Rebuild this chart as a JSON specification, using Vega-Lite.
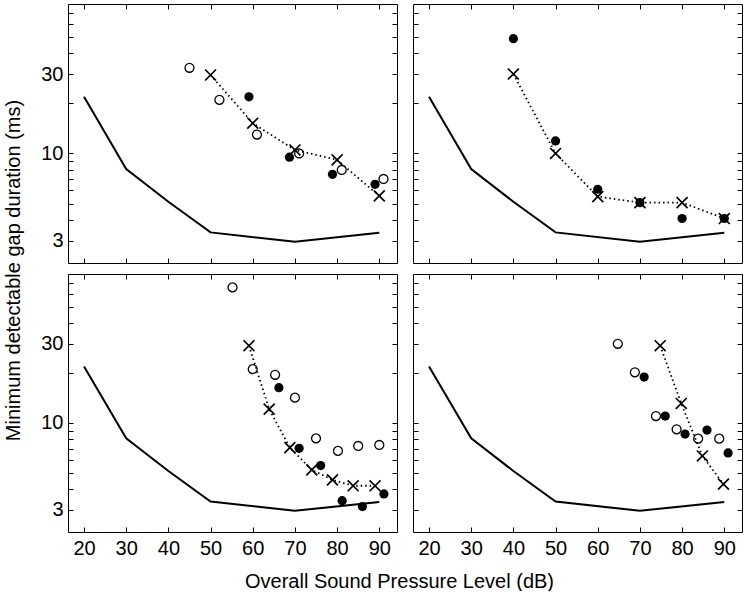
{
  "$schema": "https://vega.github.io/schema/vega-lite/v6.json",
  "padding": {"left": 3, "top": 3, "right": 0, "bottom": 0},
  "background": "white",
  "config": {
    "view": {"stroke": null},
    "axis": {
      "grid": false,
      "domainColor": "black",
      "domainWidth": 1,
      "tickColor": "black",
      "tickWidth": 1,
      "labelColor": "black",
      "titleColor": "black",
      "labelFont": "Liberation Sans",
      "titleFont": "Liberation Sans",
      "labelFontSize": 20,
      "titleFontSize": 20,
      "titleFontWeight": "normal"
    },
    "text": {"font": "Liberation Sans"}
  },
  "datasets": {
    "curve": [
      {"x": 20, "y": 21.9}, {"x": 30, "y": 8.07}, {"x": 40, "y": 5.13},
      {"x": 50, "y": 3.36}, {"x": 70, "y": 2.95}, {"x": 90, "y": 3.34}
    ],
    "pts": [
      {"panel": "a", "type": "open", "x": 45, "y": 32.7},
      {"panel": "a", "type": "open", "x": 52.1, "y": 21.0},
      {"panel": "a", "type": "open", "x": 61, "y": 13.0},
      {"panel": "a", "type": "open", "x": 71, "y": 10.0},
      {"panel": "a", "type": "open", "x": 81.1, "y": 7.96},
      {"panel": "a", "type": "open", "x": 91, "y": 7.03},
      {"panel": "a", "type": "filled", "x": 59.1, "y": 21.9},
      {"panel": "a", "type": "filled", "x": 68.7, "y": 9.5},
      {"panel": "a", "type": "filled", "x": 78.9, "y": 7.5},
      {"panel": "a", "type": "filled", "x": 89, "y": 6.53},
      {"panel": "a", "type": "cross", "x": 50, "y": 29.6},
      {"panel": "a", "type": "cross", "x": 60, "y": 15.2},
      {"panel": "a", "type": "cross", "x": 70, "y": 10.5},
      {"panel": "a", "type": "cross", "x": 80, "y": 9.15},
      {"panel": "a", "type": "cross", "x": 90, "y": 5.56},
      {"panel": "b", "type": "filled", "x": 40, "y": 48.9},
      {"panel": "b", "type": "filled", "x": 50, "y": 11.9},
      {"panel": "b", "type": "filled", "x": 60, "y": 6.1},
      {"panel": "b", "type": "filled", "x": 70, "y": 5.07},
      {"panel": "b", "type": "filled", "x": 80, "y": 4.07},
      {"panel": "b", "type": "filled", "x": 90, "y": 4.07},
      {"panel": "b", "type": "cross", "x": 40, "y": 30},
      {"panel": "b", "type": "cross", "x": 50, "y": 10},
      {"panel": "b", "type": "cross", "x": 60, "y": 5.51},
      {"panel": "b", "type": "cross", "x": 70, "y": 5.07},
      {"panel": "b", "type": "cross", "x": 80, "y": 5.07},
      {"panel": "b", "type": "cross", "x": 90, "y": 4.07},
      {"panel": "c", "type": "open", "x": 55.2, "y": 65.6},
      {"panel": "c", "type": "open", "x": 60, "y": 21.1},
      {"panel": "c", "type": "open", "x": 65.3, "y": 19.5},
      {"panel": "c", "type": "open", "x": 70, "y": 14.2},
      {"panel": "c", "type": "open", "x": 75, "y": 8.07},
      {"panel": "c", "type": "open", "x": 80.2, "y": 6.78},
      {"panel": "c", "type": "open", "x": 85, "y": 7.26},
      {"panel": "c", "type": "open", "x": 90, "y": 7.36},
      {"panel": "c", "type": "filled", "x": 66.2, "y": 16.3},
      {"panel": "c", "type": "filled", "x": 71, "y": 7.03},
      {"panel": "c", "type": "filled", "x": 76.1, "y": 5.53},
      {"panel": "c", "type": "filled", "x": 81.2, "y": 3.40},
      {"panel": "c", "type": "filled", "x": 86, "y": 3.13},
      {"panel": "c", "type": "filled", "x": 91.1, "y": 3.73},
      {"panel": "c", "type": "cross", "x": 59.1, "y": 29.2},
      {"panel": "c", "type": "cross", "x": 63.9, "y": 12.1},
      {"panel": "c", "type": "cross", "x": 68.8, "y": 7.1},
      {"panel": "c", "type": "cross", "x": 74, "y": 5.21},
      {"panel": "c", "type": "cross", "x": 78.9, "y": 4.54},
      {"panel": "c", "type": "cross", "x": 83.8, "y": 4.18},
      {"panel": "c", "type": "cross", "x": 89, "y": 4.18},
      {"panel": "d", "type": "open", "x": 64.75, "y": 30},
      {"panel": "d", "type": "open", "x": 68.8, "y": 20.2},
      {"panel": "d", "type": "open", "x": 73.8, "y": 11.0},
      {"panel": "d", "type": "open", "x": 78.7, "y": 9.15},
      {"panel": "d", "type": "open", "x": 83.8, "y": 8.04},
      {"panel": "d", "type": "open", "x": 88.8, "y": 8.04},
      {"panel": "d", "type": "filled", "x": 71, "y": 18.9},
      {"panel": "d", "type": "filled", "x": 76, "y": 11.0},
      {"panel": "d", "type": "filled", "x": 80.7, "y": 8.57},
      {"panel": "d", "type": "filled", "x": 85.9, "y": 9.06},
      {"panel": "d", "type": "filled", "x": 90.9, "y": 6.59},
      {"panel": "d", "type": "cross", "x": 74.8, "y": 29.2},
      {"panel": "d", "type": "cross", "x": 79.8, "y": 13.1},
      {"panel": "d", "type": "cross", "x": 84.8, "y": 6.32},
      {"panel": "d", "type": "cross", "x": 89.8, "y": 4.28}
    ]
  },
  "columns": 2,
  "spacing": {"row": 11, "column": 16},
  "bounds": "flush",
  "concat": [
    {
      "width": 329, "height": 259,
      "encoding": {
        "x": {"field": "x", "type": "quantitative", "scale": {"domain": [16.2, 94.2], "nice": false, "zero": false}, "axis": null},
        "y": {"field": "y", "type": "quantitative", "scale": {"type": "log", "domain": [2.2, 79], "nice": false}, "axis": null}
      },
      "layer": [
        {"data": {"name": "curve"}, "mark": {"type": "line", "color": "black", "strokeWidth": 2},
         "encoding": {
           "x": {"field": "x", "type": "quantitative", "scale": {"domain": [16.2, 94.2], "nice": false, "zero": false},
                 "axis": {"orient": "bottom", "values": [20, 30, 40, 50, 60, 70, 80, 90], "tickSize": -5, "labels": false, "title": null}},
           "y": {"field": "y", "type": "quantitative", "scale": {"type": "log", "domain": [2.2, 79], "nice": false},
                 "axis": {"orient": "left", "values": [3, 4, 5, 6, 7, 8, 9, 10, 20, 30, 40, 50, 60, 70], "tickSize": -5, "labelPadding": 10,
                          "labelExpr": "datum.value==3 ? '3' : datum.value==10 ? '10' : datum.value==30 ? '30' : ''",
                          "title": "Minimum detectable gap duration (ms)", "titleY": 266, "titlePadding": 17}}
         }},
        {"data": {"name": "pts"}, "transform": [{"filter": "datum.panel=='a' && datum.type=='cross'"}],
         "mark": {"type": "line", "color": "black", "strokeWidth": 1.8, "strokeDash": [1.5, 3]}},
        {"data": {"name": "pts"}, "transform": [{"filter": "datum.panel=='a' && datum.type=='open'"}],
         "mark": {"type": "point", "shape": "circle", "filled": false, "color": "black", "size": 80, "strokeWidth": 1.3, "opacity": 1}},
        {"data": {"name": "pts"}, "transform": [{"filter": "datum.panel=='a' && datum.type=='filled'"}],
         "mark": {"type": "point", "shape": "circle", "filled": true, "color": "black", "size": 85, "opacity": 1}},
        {"data": {"name": "pts"}, "transform": [{"filter": "datum.panel=='a' && datum.type=='cross'"}],
         "mark": {"type": "point", "shape": "M-1,-1L1,1M-1,1L1,-1", "filled": false, "color": "black", "size": 120, "strokeWidth": 1.7, "opacity": 1}},
        {"data": {"values": [{}]}, "mark": {"type": "text", "align": "left", "baseline": "middle", "fontSize": 20, "color": "black"},
         "encoding": {
           "x": {"datum": 25, "type": "quantitative", "scale": {"domain": [16.2, 94.2], "nice": false, "zero": false}, "axis": null},
           "y": {"datum": 47, "type": "quantitative", "scale": {"type": "log", "domain": [2.2, 79], "nice": false}, "axis": null},
           "text": {"value": "(a)"}
         }},
        {"data": {"name": "curve"}, "mark": {"type": "point", "opacity": 0},
         "encoding": {
           "x": {"field": "x", "type": "quantitative", "scale": {"domain": [16.2, 94.2], "nice": false, "zero": false},
                 "axis": {"orient": "top", "values": [20, 30, 40, 50, 60, 70, 80, 90], "tickSize": -5, "labels": false, "title": null}},
           "y": {"field": "y", "type": "quantitative", "scale": {"type": "log", "domain": [2.2, 79], "nice": false},
                 "axis": {"orient": "right", "values": [3, 4, 5, 6, 7, 8, 9, 10, 20, 30, 40, 50, 60, 70], "tickSize": -5, "labels": false, "title": null}}
         }}
      ]
    },
    {
      "width": 329, "height": 259,
      "encoding": {
        "x": {"field": "x", "type": "quantitative", "scale": {"domain": [16.2, 94.2], "nice": false, "zero": false}, "axis": null},
        "y": {"field": "y", "type": "quantitative", "scale": {"type": "log", "domain": [2.2, 79], "nice": false}, "axis": null}
      },
      "layer": [
        {"data": {"name": "curve"}, "mark": {"type": "line", "color": "black", "strokeWidth": 2},
         "encoding": {
           "x": {"field": "x", "type": "quantitative", "scale": {"domain": [16.2, 94.2], "nice": false, "zero": false},
                 "axis": {"orient": "bottom", "values": [20, 30, 40, 50, 60, 70, 80, 90], "tickSize": -5, "labels": false, "title": null}},
           "y": {"field": "y", "type": "quantitative", "scale": {"type": "log", "domain": [2.2, 79], "nice": false},
                 "axis": {"orient": "left", "values": [3, 4, 5, 6, 7, 8, 9, 10, 20, 30, 40, 50, 60, 70], "tickSize": -5, "labels": false, "title": null}}
         }},
        {"data": {"name": "pts"}, "transform": [{"filter": "datum.panel=='b' && datum.type=='cross'"}],
         "mark": {"type": "line", "color": "black", "strokeWidth": 1.8, "strokeDash": [1.5, 3]}},
        {"data": {"name": "pts"}, "transform": [{"filter": "datum.panel=='b' && datum.type=='filled'"}],
         "mark": {"type": "point", "shape": "circle", "filled": true, "color": "black", "size": 85, "opacity": 1}},
        {"data": {"name": "pts"}, "transform": [{"filter": "datum.panel=='b' && datum.type=='cross'"}],
         "mark": {"type": "point", "shape": "M-1,-1L1,1M-1,1L1,-1", "filled": false, "color": "black", "size": 120, "strokeWidth": 1.7, "opacity": 1}},
        {"data": {"values": [{}]}, "mark": {"type": "text", "align": "left", "baseline": "middle", "fontSize": 20, "color": "black"},
         "encoding": {
           "x": {"datum": 25, "type": "quantitative", "scale": {"domain": [16.2, 94.2], "nice": false, "zero": false}, "axis": null},
           "y": {"datum": 47, "type": "quantitative", "scale": {"type": "log", "domain": [2.2, 79], "nice": false}, "axis": null},
           "text": {"value": "(b)"}
         }},
        {"data": {"name": "curve"}, "mark": {"type": "point", "opacity": 0},
         "encoding": {
           "x": {"field": "x", "type": "quantitative", "scale": {"domain": [16.2, 94.2], "nice": false, "zero": false},
                 "axis": {"orient": "top", "values": [20, 30, 40, 50, 60, 70, 80, 90], "tickSize": -5, "labels": false, "title": null}},
           "y": {"field": "y", "type": "quantitative", "scale": {"type": "log", "domain": [2.2, 79], "nice": false},
                 "axis": {"orient": "right", "values": [3, 4, 5, 6, 7, 8, 9, 10, 20, 30, 40, 50, 60, 70], "tickSize": -5, "labels": false, "title": null}}
         }}
      ]
    },
    {
      "width": 329, "height": 258,
      "encoding": {
        "x": {"field": "x", "type": "quantitative", "scale": {"domain": [16.2, 94.2], "nice": false, "zero": false}, "axis": null},
        "y": {"field": "y", "type": "quantitative", "scale": {"type": "log", "domain": [2.2, 79], "nice": false}, "axis": null}
      },
      "layer": [
        {"data": {"name": "curve"}, "mark": {"type": "line", "color": "black", "strokeWidth": 2},
         "encoding": {
           "x": {"field": "x", "type": "quantitative", "scale": {"domain": [16.2, 94.2], "nice": false, "zero": false},
                 "axis": {"orient": "bottom", "values": [20, 30, 40, 50, 60, 70, 80, 90], "tickSize": -5, "labelPadding": 11,
                          "title": "Overall Sound Pressure Level (dB)", "titleX": 331, "titlePadding": 13}},
           "y": {"field": "y", "type": "quantitative", "scale": {"type": "log", "domain": [2.2, 79], "nice": false},
                 "axis": {"orient": "left", "values": [3, 4, 5, 6, 7, 8, 9, 10, 20, 30, 40, 50, 60, 70], "tickSize": -5, "labelPadding": 10,
                          "labelExpr": "datum.value==3 ? '3' : datum.value==10 ? '10' : datum.value==30 ? '30' : ''",
                          "title": null}}
         }},
        {"data": {"name": "pts"}, "transform": [{"filter": "datum.panel=='c' && datum.type=='cross'"}],
         "mark": {"type": "line", "color": "black", "strokeWidth": 1.8, "strokeDash": [1.5, 3]}},
        {"data": {"name": "pts"}, "transform": [{"filter": "datum.panel=='c' && datum.type=='open'"}],
         "mark": {"type": "point", "shape": "circle", "filled": false, "color": "black", "size": 80, "strokeWidth": 1.3, "opacity": 1}},
        {"data": {"name": "pts"}, "transform": [{"filter": "datum.panel=='c' && datum.type=='filled'"}],
         "mark": {"type": "point", "shape": "circle", "filled": true, "color": "black", "size": 85, "opacity": 1}},
        {"data": {"name": "pts"}, "transform": [{"filter": "datum.panel=='c' && datum.type=='cross'"}],
         "mark": {"type": "point", "shape": "M-1,-1L1,1M-1,1L1,-1", "filled": false, "color": "black", "size": 120, "strokeWidth": 1.7, "opacity": 1}},
        {"data": {"values": [{}]}, "mark": {"type": "text", "align": "left", "baseline": "middle", "fontSize": 20, "color": "black"},
         "encoding": {
           "x": {"datum": 25, "type": "quantitative", "scale": {"domain": [16.2, 94.2], "nice": false, "zero": false}, "axis": null},
           "y": {"datum": 47, "type": "quantitative", "scale": {"type": "log", "domain": [2.2, 79], "nice": false}, "axis": null},
           "text": {"value": "(c)"}
         }},
        {"data": {"name": "curve"}, "mark": {"type": "point", "opacity": 0},
         "encoding": {
           "x": {"field": "x", "type": "quantitative", "scale": {"domain": [16.2, 94.2], "nice": false, "zero": false},
                 "axis": {"orient": "top", "values": [20, 30, 40, 50, 60, 70, 80, 90], "tickSize": -5, "labels": false, "title": null}},
           "y": {"field": "y", "type": "quantitative", "scale": {"type": "log", "domain": [2.2, 79], "nice": false},
                 "axis": {"orient": "right", "values": [3, 4, 5, 6, 7, 8, 9, 10, 20, 30, 40, 50, 60, 70], "tickSize": -5, "labels": false, "title": null}}
         }}
      ]
    },
    {
      "width": 329, "height": 258,
      "encoding": {
        "x": {"field": "x", "type": "quantitative", "scale": {"domain": [16.2, 94.2], "nice": false, "zero": false}, "axis": null},
        "y": {"field": "y", "type": "quantitative", "scale": {"type": "log", "domain": [2.2, 79], "nice": false}, "axis": null}
      },
      "layer": [
        {"data": {"name": "curve"}, "mark": {"type": "line", "color": "black", "strokeWidth": 2},
         "encoding": {
           "x": {"field": "x", "type": "quantitative", "scale": {"domain": [16.2, 94.2], "nice": false, "zero": false},
                 "axis": {"orient": "bottom", "values": [20, 30, 40, 50, 60, 70, 80, 90], "tickSize": -5, "labelPadding": 11, "title": null}},
           "y": {"field": "y", "type": "quantitative", "scale": {"type": "log", "domain": [2.2, 79], "nice": false},
                 "axis": {"orient": "left", "values": [3, 4, 5, 6, 7, 8, 9, 10, 20, 30, 40, 50, 60, 70], "tickSize": -5, "labels": false, "title": null}}
         }},
        {"data": {"name": "pts"}, "transform": [{"filter": "datum.panel=='d' && datum.type=='cross'"}],
         "mark": {"type": "line", "color": "black", "strokeWidth": 1.8, "strokeDash": [1.5, 3]}},
        {"data": {"name": "pts"}, "transform": [{"filter": "datum.panel=='d' && datum.type=='open'"}],
         "mark": {"type": "point", "shape": "circle", "filled": false, "color": "black", "size": 80, "strokeWidth": 1.3, "opacity": 1}},
        {"data": {"name": "pts"}, "transform": [{"filter": "datum.panel=='d' && datum.type=='filled'"}],
         "mark": {"type": "point", "shape": "circle", "filled": true, "color": "black", "size": 85, "opacity": 1}},
        {"data": {"name": "pts"}, "transform": [{"filter": "datum.panel=='d' && datum.type=='cross'"}],
         "mark": {"type": "point", "shape": "M-1,-1L1,1M-1,1L1,-1", "filled": false, "color": "black", "size": 120, "strokeWidth": 1.7, "opacity": 1}},
        {"data": {"values": [{}]}, "mark": {"type": "text", "align": "left", "baseline": "middle", "fontSize": 20, "color": "black"},
         "encoding": {
           "x": {"datum": 25, "type": "quantitative", "scale": {"domain": [16.2, 94.2], "nice": false, "zero": false}, "axis": null},
           "y": {"datum": 47, "type": "quantitative", "scale": {"type": "log", "domain": [2.2, 79], "nice": false}, "axis": null},
           "text": {"value": "(d)"}
         }},
        {"data": {"name": "curve"}, "mark": {"type": "point", "opacity": 0},
         "encoding": {
           "x": {"field": "x", "type": "quantitative", "scale": {"domain": [16.2, 94.2], "nice": false, "zero": false},
                 "axis": {"orient": "top", "values": [20, 30, 40, 50, 60, 70, 80, 90], "tickSize": -5, "labels": false, "title": null}},
           "y": {"field": "y", "type": "quantitative", "scale": {"type": "log", "domain": [2.2, 79], "nice": false},
                 "axis": {"orient": "right", "values": [3, 4, 5, 6, 7, 8, 9, 10, 20, 30, 40, 50, 60, 70], "tickSize": -5, "labels": false, "title": null}}
         }}
      ]
    }
  ]
}
